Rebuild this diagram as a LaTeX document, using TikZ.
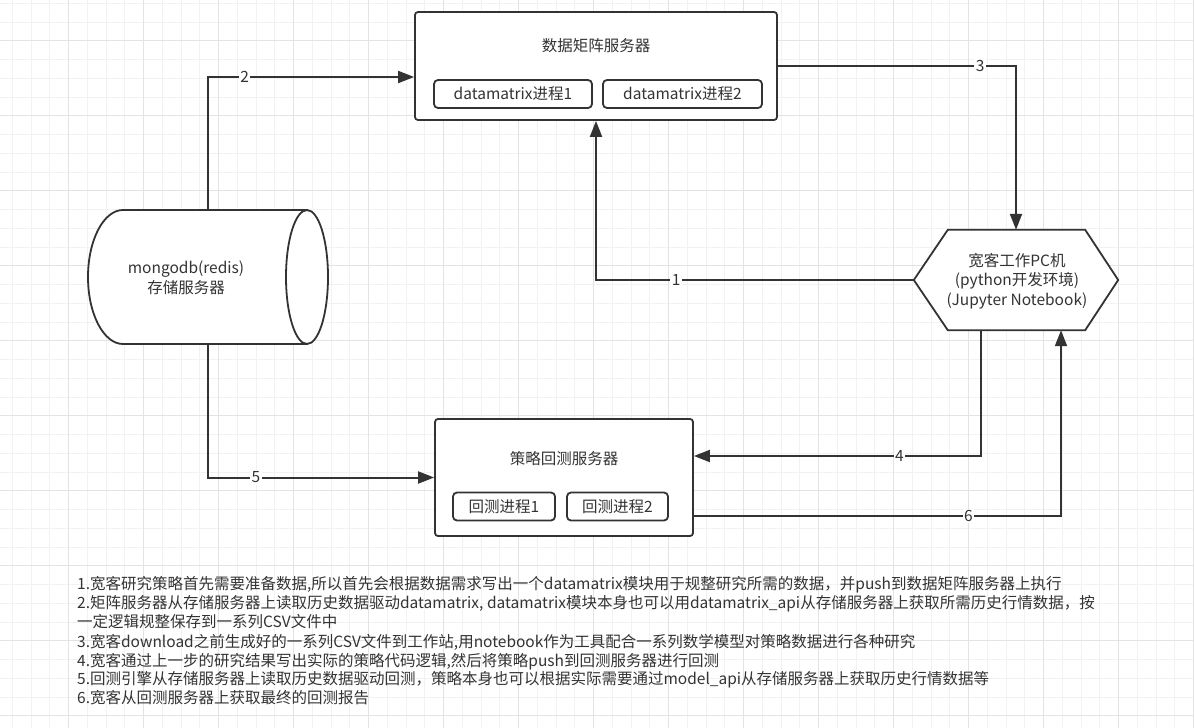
\documentclass[tikz,border=0pt]{standalone}
\usepackage{fontspec}
\setmainfont{Noto Sans CJK SC}
\usetikzlibrary{arrows.meta,calc}
\definecolor{ink}{HTML}{333333}
\definecolor{gridminor}{HTML}{F2F2F2}
\definecolor{gridmajor}{HTML}{E3E3E3}
\begin{document}
\begin{tikzpicture}[x=1pt,y=-1pt,
  txt/.style={text=ink, inner sep=0pt, font=\fontsize{15.5}{19.5}\selectfont},
  box/.style={draw=ink, line width=1.8pt, rounded corners=3pt, fill=white, inner sep=0pt},
  subbox/.style={box, rounded corners=4pt, minimum height=28pt, text=ink, font=\fontsize{15.5}{19}\selectfont},
  shapeline/.style={draw=ink, line width=1.8pt, fill=white, line join=miter},
  conn/.style={draw=ink, line width=2pt, -{Triangle[length=16pt,width=12pt]}},
  plain/.style={draw=ink, line width=2pt},
  lbl/.style={fill=white, text=ink, inner sep=1.5pt, font=\fontsize{15.5}{18}\selectfont},
  note/.style={anchor=base west, text=ink, inner sep=0pt, font=\fontsize{15.5}{19}\selectfont}
]
\useasboundingbox (0,0) rectangle (1194,728);
\fill[white] (0,0) rectangle (1194,728);
% grid
\foreach \i in {0,...,63} \draw[gridminor, line width=1pt] ({12.3+18.75*\i},0) -- ({12.3+18.75*\i},728);
\foreach \j in {0,...,38} \draw[gridminor, line width=1pt] (0,{3.3+18.75*\j}) -- (1194,{3.3+18.75*\j});
\foreach \i in {0,...,15} \draw[gridmajor, line width=1pt] ({68.55+75*\i},0) -- ({68.55+75*\i},728);
\foreach \j in {0,...,9} \draw[gridmajor, line width=1pt] (0,{40.8+75*\j}) -- (1194,{40.8+75*\j});

% data matrix server
\node[box, minimum width=362pt, minimum height=108pt] (matrix) at (596,66) {};
\node[txt] (mtitle) at (596,46) {数据矩阵服务器};
\node[subbox, minimum width=158pt] (dm1) at (513,94) {datamatrix进程1};
\node[subbox, minimum width=159pt] (dm2) at (682.5,94) {datamatrix进程2};

% backtest server
\node[box, minimum width=258pt, minimum height=117pt] (bt) at (564,477.5) {};
\node[txt] (btitle) at (564,459) {策略回测服务器};
\node[subbox, minimum width=102pt] (bt1) at (504,506.5) {回测进程1};
\node[subbox, minimum width=101pt] (bt2) at (617.5,506.5) {回测进程2};

% storage cylinder
\node[rectangle, inner sep=0pt, minimum width=240pt, minimum height=134pt] (db) at (208,277) {};
\filldraw[shapeline] (123,210) -- (307,210) -- (307,344) -- (123,344)
  arc[start angle=90, end angle=270, x radius=35, y radius=67] -- cycle;
\filldraw[shapeline] (307,277) ellipse [x radius=21, y radius=67];
\node[txt, align=center, font=\fontsize{15.5}{20.5}\selectfont] (dbtext) at (186,278) {mongodb(redis)\\存储服务器};

% quant PC hexagon
\node[rectangle, inner sep=0pt, minimum width=204pt, minimum height=100pt] (pc) at (1016,280) {};
\filldraw[shapeline] (pc.west) -- ($(pc.north west)+(34,0)$) -- ($(pc.north east)+(-33,0)$)
  -- (pc.east) -- ($(pc.south east)+(-33,0)$) -- ($(pc.south west)+(34,0)$) -- cycle;
\node[txt, align=center] (pctext) at (1017,281) {宽客工作PC机\\(python开发环境)\\(Jupyter Notebook)};

% connectors
\draw[conn] (db.north) |- ($(matrix.west)+(0,11)$) node[lbl, pos=0.589] {2};
\draw[conn] (db.south) |- (bt.west) node[lbl, pos=0.606] {5};
\draw[conn] (matrix.east) -| (pc.north) node[lbl, pos=0.425] {3};
\draw[conn] (pc.west) -| (matrix.south) node[lbl, pos=0.374] {1};
\draw[conn] ($(pc.south)+(-35,0)$) |- ($(bt.east)+(0,-21.5)$) node[lbl, pos=0.642] {4};
\draw[conn] ($(bt.east)+(0,38.5)$) -| ($(pc.south)+(45,0)$) node[lbl, pos=0.374] {6};

% notes
\node[note] (n1) at (77,589) {1.宽客研究策略首先需要准备数据,所以首先会根据数据需求写出一个datamatrix模块用于规整研究所需的数据，并push到数据矩阵服务器上执行};
\node[note] (n2) at (77,608) {2.矩阵服务器从存储服务器上读取历史数据驱动datamatrix, datamatrix模块本身也可以用datamatrix\_api从存储服务器上获取所需历史行情数据，按};
\node[note] (n3) at (77,627) {一定逻辑规整保存到一系列CSV文件中};
\node[note] (n4) at (77,647) {3.宽客download之前生成好的一系列CSV文件到工作站,用notebook作为工具配合一系列数学模型对策略数据进行各种研究};
\node[note] (n5) at (77,666) {4.宽客通过上一步的研究结果写出实际的策略代码逻辑,然后将策略push到回测服务器进行回测};
\node[note] (n6) at (77,684) {5.回测引擎从存储服务器上读取历史数据驱动回测，策略本身也可以根据实际需要通过model\_api从存储服务器上获取历史行情数据等};
\node[note] (n7) at (77,703) {6.宽客从回测服务器上获取最终的回测报告};
\end{tikzpicture}
\end{document}
